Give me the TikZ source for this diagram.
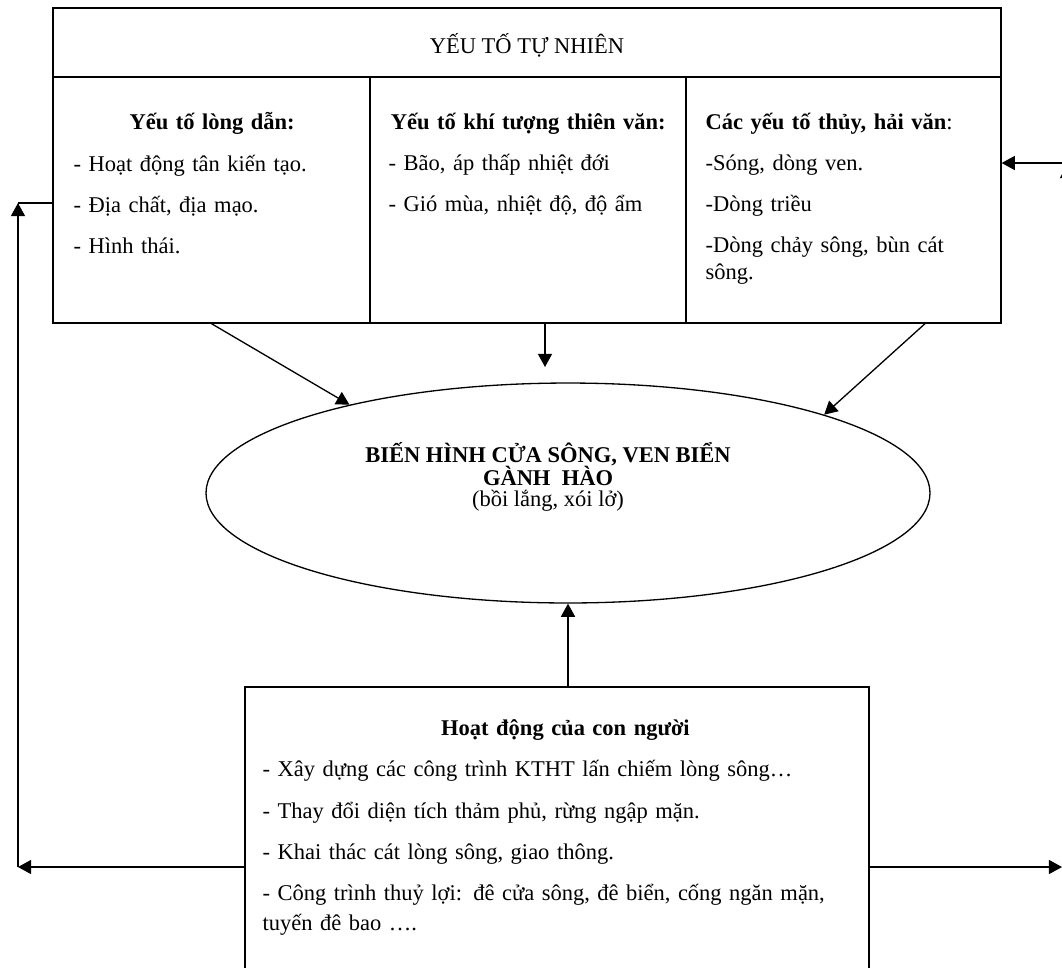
\documentclass[tikz,border=0pt]{standalone}
\usepackage{fontspec}
\setmainfont{Liberation Serif}
\usetikzlibrary{shapes.geometric, arrows.meta, positioning}

\begin{document}
\begin{tikzpicture}[x=0.5333pt, y=-0.5333pt, line width=0.7pt,
  >={Triangle[length=7pt, width=7.5pt]},
  cell/.style={draw, rectangle, inner sep=0pt},
  coltext/.style={anchor=north west, inner sep=0pt, align=left, font=\fontsize{12}{14}\selectfont},
  link/.style={->}]
  \useasboundingbox (0,0) rectangle (1062,967);
  \clip (0,0) rectangle (1062,967);

  % Natural factors
  \node[cell, minimum width=505.6pt, minimum height=36.8pt] (natural) at (527,42.5) {};
  \node[inner sep=0pt, font=\fontsize{12}{14}\selectfont] (naturaltxt) at (527,45) {YẾU TỐ TỰ NHIÊN};
  \node[cell, minimum width=169.1pt, minimum height=131.2pt] (bed) at (211.5,200) {};
  \node[cell, minimum width=168.5pt, minimum height=131.2pt] (meteo) at (528,200) {};
  \node[cell, minimum width=168pt, minimum height=131.2pt] (hydro) at (843.5,200) {};

  \node[coltext, text width=147.7pt] (bedtxt) at (73,112) {
    \makebox[\linewidth]{\textbf{Yếu tố lòng dẫn:}}\\[8pt]
    - Hoạt động tân kiến tạo.\\[8pt]
    - Địa chất, địa mạo.\\[8pt]
    - Hình thái.
  };
  \node[coltext, text width=149pt] (meteotxt) at (388,112) {
    \makebox[\linewidth]{\textbf{Yếu tố khí tượng thiên văn:}}\\[8pt]
    - Bão, áp thấp nhiệt đới\\[8pt]
    - Gió mùa, nhiệt độ, độ ẩm
  };
  \node[coltext, text width=150pt] (hydrotxt) at (705,112) {
    \textbf{Các yếu tố thủy, hải văn}:\\[8pt]
    -Sóng, dòng ven.\\[8pt]
    -Dòng triều\\[8pt]
    -Dòng chảy sông, bùn cát\\
    sông.
  };

  % Morphology
  \node[draw, ellipse, minimum width=386.1pt, minimum height=117.3pt, inner sep=0pt] (morph) at (568,493) {};
  \node[align=center, inner sep=0pt, font=\fontsize{12}{12}\selectfont] (morphtxt) at (548,477) {
    \textbf{BIẾN HÌNH CỬA SÔNG, VEN BIỂN}\\[-0.8pt]
    \textbf{GÀNH~~HÀO}\\[-0.8pt]
    (bồi lắng, xói lở)
  };

  % Human activity
  \node[cell, minimum width=332.8pt, minimum height=156.3pt] (human) at (557,833.5) {};
  \node[coltext, text width=323pt] (humantxt) at (262,719) {
    \makebox[\linewidth]{\textbf{Hoạt động của con người}}\\[8pt]
    - Xây dựng các công trình KTHT lấn chiếm lòng sông…\\[8pt]
    - Thay đổi diện tích thảm phủ, rừng ngập mặn.\\[8pt]
    - Khai thác cát lòng sông, giao thông.\\[8pt]
    - Công trình thuỷ lợi: đê cửa sông, đê biển, cống ngăn mặn,\\[2pt]
    tuyến đê bao ….
  };

  % Connectors
  \coordinate (meteoend) at (545,367);
  \coordinate (hydrostart) at (925,323);
  \draw[link] (bed.south) -- (morph.158);
  \draw[link] (meteo.south -| meteoend) -- (meteoend);
  \draw[link] (hydro.south -| hydrostart) -- (morph.17);
  \draw[link] (human.north -| morph.south) -- (morph.south);

  % Feedback loops
  \coordinate (leftcorner) at (18,867);
  \coordinate (lefttop) at (18,203);
  \draw[link] (human.west |- leftcorner) -- (leftcorner);
  \draw[link] (leftcorner) -- (lefttop);
  \draw (lefttop) -- (lefttop -| bed.west);

  \coordinate (rightend) at (1062,867);
  \coordinate (rightcorner) at (1067,867);
  \coordinate (righttop) at (1067,165);
  \coordinate (rightin) at (1067,163);
  \draw[link] (human.east |- rightend) -- (rightend);
  \draw[link] (rightcorner) -- (righttop);
  \draw[link] (rightin) -- (rightin -| hydro.east);
\end{tikzpicture}
\end{document}
